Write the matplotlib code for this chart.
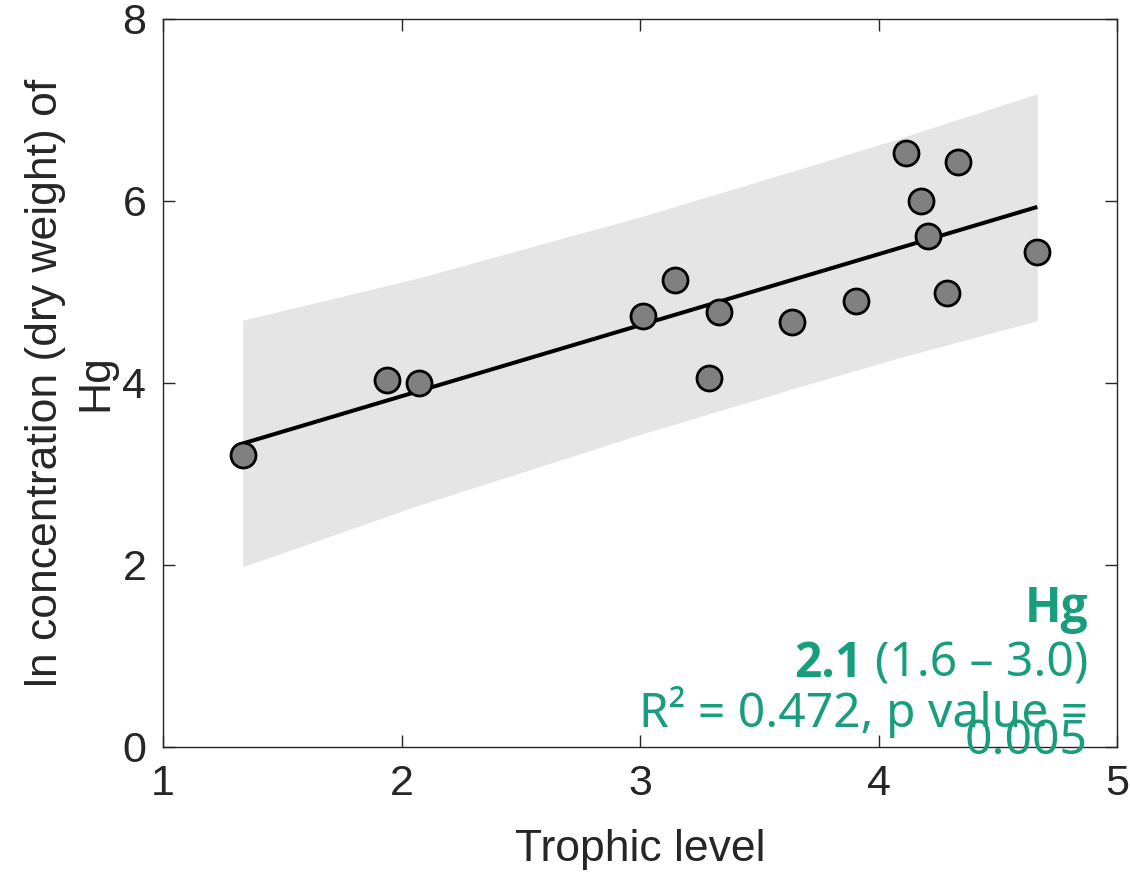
import matplotlib
matplotlib.use("Agg")
import matplotlib.pyplot as plt

# ---- data ----
trophic = [1.334, 1.941, 2.074, 3.014, 3.147, 3.291, 3.333, 3.639, 3.904,
           4.115, 4.177, 4.209, 4.286, 4.335, 4.666]
ln_hg = [3.21, 4.03, 4.00, 4.736, 5.13, 4.06, 4.78, 4.67, 4.905,
         6.53, 6.00, 5.61, 4.985, 6.43, 5.44]

fit_x = [1.334, 4.666]
fit_y = [3.335, 5.935]

band_x = [1.334, 2.064, 3.014, 3.643, 4.09, 4.666]
band_upper = [4.69, 5.15, 5.835, 6.33, 6.69, 7.18]
band_lower = [1.98, 2.65, 3.445, 3.94, 4.28, 4.685]

xticks = [1, 2, 3, 4, 5]
yticks = [0, 2, 4, 6, 8]

title_txt = "Hg"
slope_txt = "2.1"
ci_txt = "(1.6 \u2013 3.0)"
stats_txt = "R\u00b2 = 0.472, p value ="
p_txt = "0.005"

GREEN = "#189e7d"
AXC = "#262626"
TFONT = "Noto Sans"
BFONT = "Open Sans"
TSIZE = 34.5

fig = plt.figure(figsize=(11.3, 8.74), dpi=100)
ax = fig.add_axes([163/1130, 127/874, (1117-163)/1130, (747-19)/874])

ax.fill_between(band_x, band_lower, band_upper, color="#e5e5e5", lw=0, zorder=1)
ax.plot(fit_x, fit_y, color="black", lw=2.9, solid_capstyle="butt", zorder=2)
ax.plot(trophic, ln_hg, ls="none", marker="o", ms=18, mfc="#808080",
        mec="black", mew=2.0, zorder=3)

ax.set_xlim(1, 5)
ax.set_ylim(0, 8)
ax.set_xticks(xticks)
ax.set_yticks(yticks)

for s in ax.spines.values():
    s.set_color(AXC)
    s.set_linewidth(1.0)
ax.tick_params(direction="in", length=8.5, width=1.0, color=AXC,
               top=True, right=True, labelsize=31, labelcolor=AXC, pad=12)
for lab in ax.get_xticklabels() + ax.get_yticklabels():
    lab.set_family("Liberation Sans")

ax.set_xlabel("Trophic level", fontsize=32, family="Liberation Sans",
              color=AXC, labelpad=18)
ax.set_ylabel("ln concentration (dry weight) of\nHg", fontsize=32,
              family="Liberation Sans", color=AXC, labelpad=4,
              linespacing=1.3)

# ---- annotation text (figure pixel coords) ----
W, H = 1130, 874
xr = 1088 / W
fig.text(xr, 1 - 622/H, title_txt, ha="right", va="baseline", fontsize=TSIZE,
         fontweight="bold", family=BFONT, color=GREEN, zorder=10)
ci = fig.text(xr, 1 - 677/H, ci_txt, ha="right", va="baseline", fontsize=TSIZE,
              family=TFONT, color=GREEN, zorder=10)
fig.text(xr, 1 - 727/H, stats_txt, ha="right", va="baseline", fontsize=TSIZE,
         family=TFONT, color=GREEN, zorder=10)
fig.text(xr, 1 - 754/H, p_txt, ha="right", va="baseline", fontsize=TSIZE,
         family=TFONT, color=GREEN, zorder=10)

fig.canvas.draw()
bb = ci.get_window_extent()
x0 = bb.x0 / fig.bbox.width - 12 / W
fig.text(x0, 1 - 677/H, slope_txt, ha="right", va="baseline", fontsize=TSIZE,
         fontweight="bold", family=BFONT, color=GREEN, zorder=10)

fig.savefig("out.png", dpi=100)
